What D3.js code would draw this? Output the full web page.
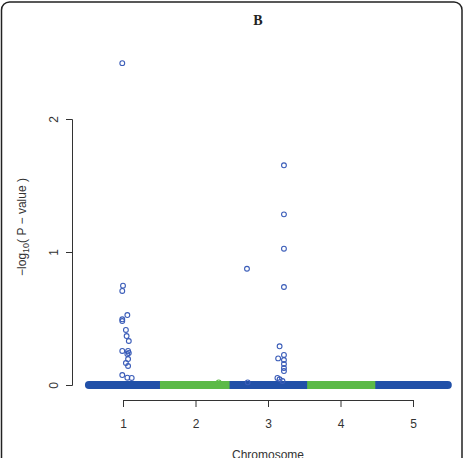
<!DOCTYPE html>
<html>
<head>
<meta charset="utf-8">
<script src="https://cdn.jsdelivr.net/npm/d3@7"></script>
<style>
  html, body { margin: 0; padding: 0; background: #fff; }
  svg { display: block; }
</style>
</head>
<body>
<div id="chart"></div>
<script>
// chromosome segments (background band of SNPs at ~0)
var chromNames = [1, 2, 3, 4, 5];
var chromStart = [0.53, 1.51, 2.47, 3.54, 4.48];
var chromEnd   = [1.51, 2.47, 3.54, 4.48, 5.48];

// points above the band: position on chromosome axis and -log10(p)
var snpChrom = [1, 1, 1, 1, 1, 1, 1, 1, 1, 1, 1, 1, 1, 1, 1, 1, 1, 1, 1,
                2,
                3, 3, 3, 3, 3, 3, 3, 3, 3, 3, 3, 3, 3, 3, 3, 3];
var snpPos = [0.99, 1.0, 0.99, 1.06, 0.99, 0.99, 1.04, 1.05, 1.08, 0.99, 1.07, 1.08, 1.06, 1.07, 1.04, 1.07, 0.99, 1.06, 1.12,
              2.32,
              3.22, 3.22, 3.22, 2.71, 3.22, 3.16, 3.14, 3.22, 3.22, 3.22, 3.22, 3.22, 3.13, 3.16, 2.72, 3.2];
var snpLogP = [2.42, 0.747, 0.707, 0.526, 0.494, 0.481, 0.414, 0.368, 0.331, 0.256, 0.256, 0.241, 0.233, 0.195, 0.165, 0.143, 0.075, 0.055, 0.053,
               0.02,
               1.652, 1.283, 1.025, 0.874, 0.737, 0.291, 0.2, 0.226, 0.188, 0.158, 0.128, 0.105, 0.053, 0.043, 0.02, 0.03];

var xTicks = [1, 2, 3, 4, 5];
var yTicks = [0, 1, 2];

var width = 465, height = 458;
var blue = "#2150a8", green = "#5cba47", ptBlue = "#3a5cb8";
var font = "Liberation Sans, Arial, sans-serif";

var svg = d3.select("#chart").append("svg")
    .attr("width", width)
    .attr("height", height);

// outer rounded frame
svg.append("rect")
    .attr("x", 1.5).attr("y", 2)
    .attr("width", 460.5).attr("height", 470)
    .attr("rx", 8)
    .attr("fill", "none")
    .attr("stroke", "#222")
    .attr("stroke-width", 1.5);

var x = d3.scaleLinear().domain([1, 5]).range([123, 413]);
var y = d3.scaleLinear().domain([0, 2]).range([385, 119]);

// title
svg.append("text")
    .attr("x", 258).attr("y", 25)
    .attr("text-anchor", "middle")
    .attr("font-family", "Liberation Serif, serif")
    .attr("font-weight", "bold")
    .attr("font-size", 14)
    .attr("fill", "#222")
    .text("B");

// band of points at zero, drawn as thick strokes per chromosome
var segs = chromNames.map(function(c, i) {
    return { chrom: c, start: chromStart[i], end: chromEnd[i] };
});
var bandBlue = segs.filter(function(d) { return d.chrom % 2 === 1; });
var bandGreen = segs.filter(function(d) { return d.chrom % 2 === 0; });

svg.append("g").selectAll("line")
    .data(bandBlue)
    .join("line")
    .attr("x1", function(d) { return x(d.start); })
    .attr("x2", function(d) { return x(d.end); })
    .attr("y1", y(0)).attr("y2", y(0))
    .attr("stroke", blue)
    .attr("stroke-width", 8)
    .attr("stroke-linecap", "round");

svg.append("g").selectAll("line")
    .data(bandGreen)
    .join("line")
    .attr("x1", function(d) { return x(d.start); })
    .attr("x2", function(d) { return x(d.end); })
    .attr("y1", y(0)).attr("y2", y(0))
    .attr("stroke", green)
    .attr("stroke-width", 8);

// points
var pts = snpPos.map(function(p, i) {
    return { chrom: snpChrom[i], pos: p, v: snpLogP[i] };
});
svg.append("g").selectAll("circle")
    .data(pts)
    .join("circle")
    .attr("cx", function(d) { return x(d.pos); })
    .attr("cy", function(d) { return y(d.v); })
    .attr("r", 2.4)
    .attr("fill", "none")
    .attr("stroke", function(d) { return d.chrom % 2 === 0 ? green : ptBlue; })
    .attr("stroke-width", 1.1);

// y axis
var yAxis = svg.append("g")
    .attr("transform", "translate(72,0)")
    .call(d3.axisLeft(y).tickValues(yTicks).tickSize(6).tickFormat(d3.format("d")));
yAxis.select(".domain").attr("stroke", "#333");
yAxis.selectAll(".tick line").attr("stroke", "#333");
yAxis.selectAll(".tick text")
    .attr("font-family", font)
    .attr("font-size", 12)
    .attr("fill", "#333")
    .attr("text-anchor", "middle")
    .attr("x", null).attr("dy", null)
    .attr("transform", "translate(-18,0) rotate(-90)")
    .attr("y", 0)
    .attr("dominant-baseline", "central");

// x axis
var xAxis = svg.append("g")
    .attr("transform", "translate(0,400)")
    .call(d3.axisBottom(x).tickValues(xTicks).tickSize(7).tickFormat(d3.format("d")));
xAxis.select(".domain").attr("stroke", "#333");
xAxis.selectAll(".tick line").attr("stroke", "#333");
xAxis.selectAll(".tick text")
    .attr("font-family", font)
    .attr("font-size", 12)
    .attr("fill", "#333")
    .attr("y", 19);

// axis titles
svg.append("text")
    .attr("x", 268).attr("y", 459)
    .attr("text-anchor", "middle")
    .attr("font-family", font)
    .attr("font-size", 12)
    .attr("fill", "#333")
    .text("Chromosome");

var yt = svg.append("text")
    .attr("transform", "translate(26,227) rotate(-90)")
    .attr("text-anchor", "middle")
    .attr("font-family", font)
    .attr("font-size", 12)
    .attr("fill", "#333");
yt.append("tspan").text("\u2212log");
yt.append("tspan").attr("font-size", 9).attr("dy", 3).text("10");
yt.append("tspan").attr("dy", -3).text("( P \u2212 value )");
</script>
</body>
</html>
